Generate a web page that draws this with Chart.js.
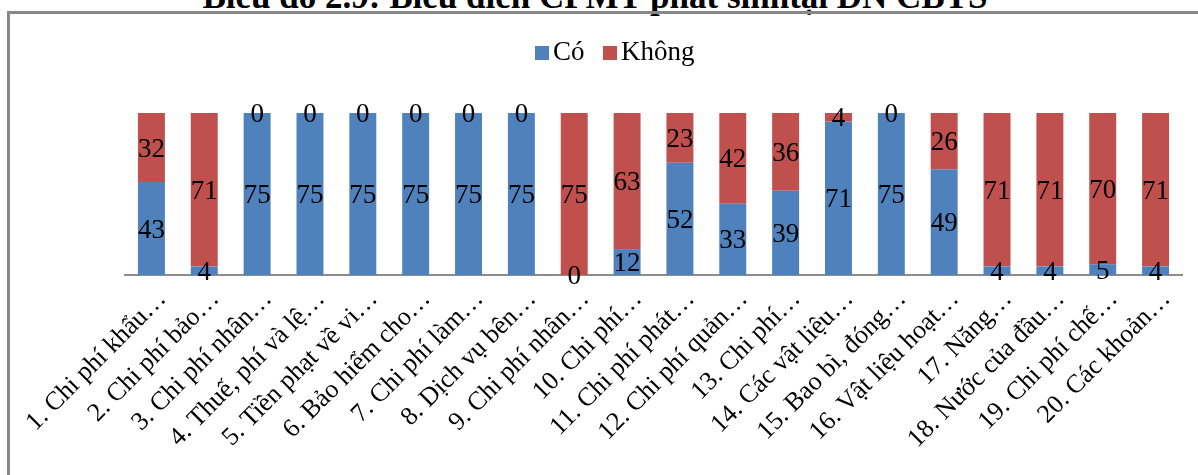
<!DOCTYPE html>
<html>
<head>
<meta charset="utf-8">
<script src="https://cdn.jsdelivr.net/npm/chart.js@4"></script>
<style>
  html, body { margin: 0; padding: 0; background: #fff; overflow: hidden; width: 1198px; height: 475px; }
  #title { position: absolute; left: 0; width: 1190px; top: -23px; text-align: center;
           font-family: "Liberation Serif", serif; font-weight: bold; font-size: 35px; color: #000; white-space: nowrap; }
  #box { position: absolute; left: 7px; top: 11px; width: 1230px; height: 480px;
         border-left: 3px solid #888; border-top: 3px solid #888; }
  #wrap { position: absolute; left: 10px; top: 14px; }
  .leg { position: absolute; top: 36px; font-family: "Liberation Serif", serif; font-size: 27px; color: #000; white-space: nowrap; }
  .sw { display: inline-block; width: 14px; height: 14px; vertical-align: 0px; margin-right: 4px; }
</style>
</head>
<body>
<div id="title">Biểu đồ 2.9: Biểu diễn CPMT phát sinhtại DN CBTS</div>
<div id="box"></div>
<div id="wrap"><canvas id="c" width="1212" height="461"></canvas></div>
<div class="leg" id="leg1" style="left:535px"><span class="sw" style="background:#4F81BD"></span>Có</div>
<div class="leg" id="leg2" style="left:603px"><span class="sw" style="background:#C0504D"></span>Không</div>
<script>
const categories = [
  "1. Chi phí khẩu…", "2. Chi phí bảo…", "3. Chi phí nhân…", "4. Thuế, phí và lệ…",
  "5. Tiền phạt về vi…", "6. Bảo hiểm cho…", "7. Chi phí làm…", "8. Dịch vụ bên…",
  "9. Chi phí nhân…", "10. Chi phí…", "11. Chi phí phát…", "12. Chi phí quản…",
  "13. Chi phí…", "14. Các vật liệu…", "15. Bao bì, đóng…", "16. Vật liệu hoạt…",
  "17. Năng…", "18. Nước của đầu…", "19. Chi phí chế…", "20. Các khoản…"
];
const seriesNames = ["Có", "Không"];
const coValues    = [43, 4, 75, 75, 75, 75, 75, 75, 0, 12, 52, 33, 39, 71, 75, 49, 4, 4, 5, 4];
const khongValues = [32, 71, 0, 0, 0, 0, 0, 0, 75, 63, 23, 42, 36, 4, 0, 26, 71, 71, 70, 71];
const yMax = 75;

const SERIF = '"Liberation Serif", "Times New Roman", serif';

const valueLabels = {
  id: 'valueLabels',
  afterDatasetsDraw(chart) {
    const ctx = chart.ctx;
    ctx.save();
    ctx.font = '27px ' + SERIF;
    ctx.fillStyle = '#000';
    ctx.textAlign = 'center';
    ctx.textBaseline = 'middle';
    chart.data.datasets.forEach((ds, di) => {
      const meta = chart.getDatasetMeta(di);
      meta.data.forEach((el, i) => {
        const v = ds.data[i];
        const y = (el.y + el.base) / 2;
        ctx.fillText(String(v), el.x, y + 2);
      });
    });
    ctx.restore();
  }
};

new Chart(document.getElementById('c'), {
  type: 'bar',
  data: {
    labels: categories,
    datasets: [
      { label: seriesNames[0], data: coValues, backgroundColor: '#4F81BD', borderWidth: 0,
        categoryPercentage: 1.0, barPercentage: 0.51 },
      { label: seriesNames[1], data: khongValues, backgroundColor: '#C0504D', borderWidth: 0,
        categoryPercentage: 1.0, barPercentage: 0.51 }
    ]
  },
  options: {
    responsive: false,
    animation: false,
    devicePixelRatio: 1,
    layout: { padding: { left: 115, right: 40, top: 99, bottom: 0 } },
    plugins: { legend: { display: false }, title: { display: false }, tooltip: { enabled: false } },
    scales: {
      x: {
        stacked: true,
        grid: { display: false, drawTicks: false },
        border: { display: true, color: '#8c8c8c', width: 2 },
        ticks: {
          autoSkip: false, maxRotation: 45, minRotation: 45,
          font: { family: SERIF, size: 26 }, color: '#000',
          padding: 9, labelOffset: 11
        },
        afterFit(scale) { scale.height = 200; scale.paddingLeft = 0; scale.paddingRight = 0; }
      },
      y: {
        stacked: true, display: false, min: 0, max: yMax
      }
    }
  },
  plugins: [valueLabels]
});
</script>
</body>
</html>
